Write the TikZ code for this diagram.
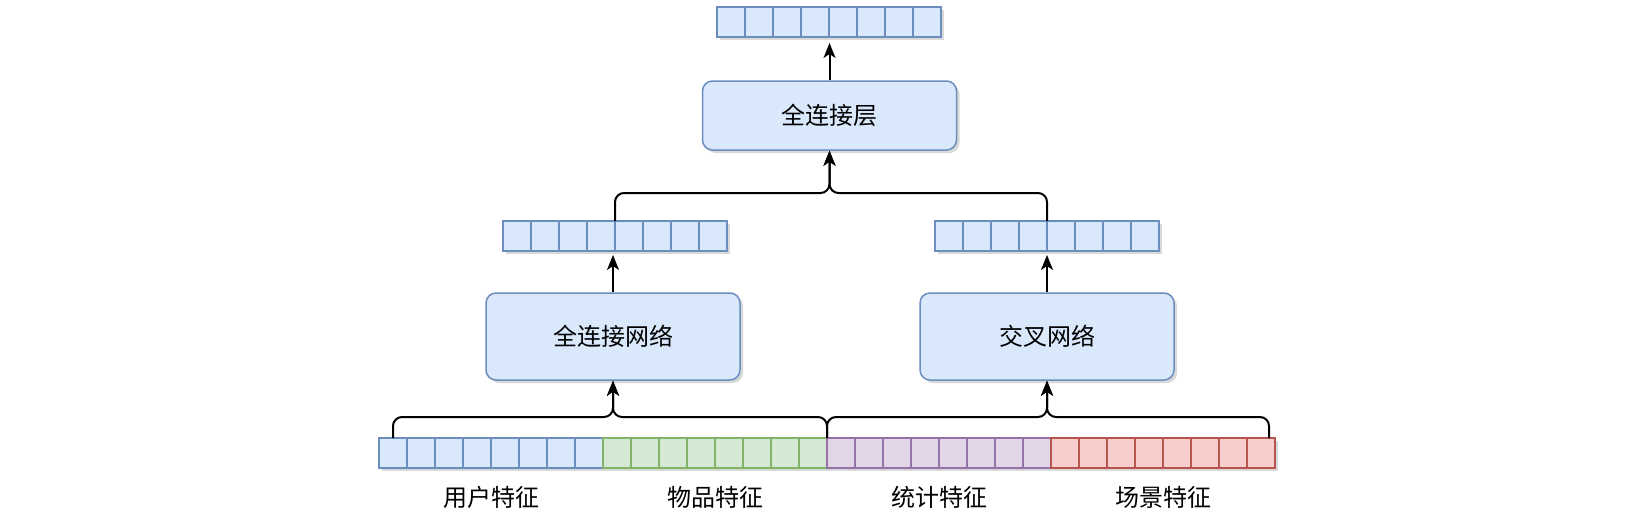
\documentclass[tikz,border=0pt]{standalone}
\usepackage{fontspec}
\newfontfamily\cjk{Noto Sans CJK SC}
\usepackage{tikz}
\usetikzlibrary{arrows.meta,shadows,positioning}
\definecolor{bluefill}{HTML}{DAE8FC}
\definecolor{bluedraw}{HTML}{6C8EBF}
\definecolor{greenfill}{HTML}{D5E8D4}
\definecolor{greendraw}{HTML}{82B366}
\definecolor{purplefill}{HTML}{E1D5E7}
\definecolor{purpledraw}{HTML}{9673A6}
\definecolor{redfill}{HTML}{F8CECC}
\definecolor{reddraw}{HTML}{B85450}

\begin{document}
\begin{tikzpicture}[>={Stealth[length=7.5pt,width=6pt,inset=2pt]}, node distance=14pt, x=0.5pt, y=-0.5pt]
	\tikzstyle{softshadow} = [drop shadow={shadow xshift=1.5pt, shadow yshift=-1.5pt, opacity=0.25, fill=black!60}]
	\tikzstyle{cell} = [draw, line width=0.75pt, minimum width=14pt, minimum height=15pt, inner sep=0pt, outer sep=0pt, softshadow]
	\tikzstyle{bcell} = [cell, fill=bluefill, draw=bluedraw]
	\tikzstyle{gcell} = [cell, fill=greenfill, draw=greendraw]
	\tikzstyle{pcell} = [cell, fill=purplefill, draw=purpledraw]
	\tikzstyle{rcell} = [cell, fill=redfill, draw=reddraw]
	\tikzstyle{block} = [draw=bluedraw, fill=bluefill, line width=0.75pt, rounded corners=5pt, minimum width=127pt, inner sep=0pt, font=\cjk\fontsize{12pt}{14pt}\selectfont, softshadow]
	\tikzstyle{featname} = [font=\cjk\fontsize{12pt}{14pt}\selectfont, inner sep=0pt]
	\tikzstyle{conn} = [->, line width=1pt, rounded corners=4.5pt]
	\useasboundingbox (0,0) rectangle (1638,514);

	% output vector and top layer
	\node[bcell] (o1) at (731,22) {};
	\foreach \i [count=\j from 2] in {1,...,7}
		\node[bcell, right of=o\i] (o\j) {};
	\node[block, minimum height=34.5pt] (fcl) at (829.5,115.5) {全连接层};

	% hidden vectors
	\node[bcell] (h1) at (517,236) {};
	\foreach \i [count=\j from 2] in {1,...,7}
		\node[bcell, right of=h\i] (h\j) {};
	\node[bcell] (x1) at (949,236) {};
	\foreach \i [count=\j from 2] in {1,...,7}
		\node[bcell, right of=x\i] (x\j) {};

	% two networks
	\node[block, minimum height=43.5pt] (fcn) at (613,336.5) {全连接网络};
	\node[block, minimum height=43.5pt] (cross) at (1047,336.5) {交叉网络};

	% input features
	\node[bcell] (u1) at (393,453) {};
	\foreach \i [count=\j from 2] in {1,...,7}
		\node[bcell, right of=u\i] (u\j) {};
	\node[gcell, right of=u8] (i1) {};
	\foreach \i [count=\j from 2] in {1,...,7}
		\node[gcell, right of=i\i] (i\j) {};
	\node[pcell, right of=i8] (s1) {};
	\foreach \i [count=\j from 2] in {1,...,7}
		\node[pcell, right of=s\i] (s\j) {};
	\node[rcell, right of=s8] (c1) {};
	\foreach \i [count=\j from 2] in {1,...,7}
		\node[rcell, right of=c\i] (c\j) {};

	\node[featname] (lu) at ([yshift=-14.5pt]u4.south east) {用户特征};
	\node[featname] (li) at ([yshift=-14.5pt]i4.south east) {物品特征};
	\node[featname] (ls) at ([yshift=-14.5pt]s4.south east) {统计特征};
	\node[featname] (lc) at ([yshift=-14.5pt]c4.south east) {场景特征};

	% connectors
	\draw[conn] (u1.north) -- ++(0,-21) -| (fcn.south);
	\draw[conn] (i8.north east) -- ++(0,-21) -| (fcn.south);
	\draw[conn] (s1.north west) -- ++(0,-21) -| (cross.south);
	\draw[conn] ([xshift=4pt]c8.north) -- ++(0,-21) -| (cross.south);
	\draw[conn, shorten >=2pt] (fcn.north) -- (fcn.north |- h4.south);
	\draw[conn, shorten >=2pt] (cross.north) -- (cross.north |- x4.south);
	\draw[conn] (h4.north east) -- ++(0,-28) -| (fcl.south);
	\draw[conn] (x4.north east) -- ++(0,-28) -| (fcl.south);
	\draw[conn, shorten >=3pt] (fcl.north) -- (fcl.north |- o4.south);
\end{tikzpicture}
\end{document}
